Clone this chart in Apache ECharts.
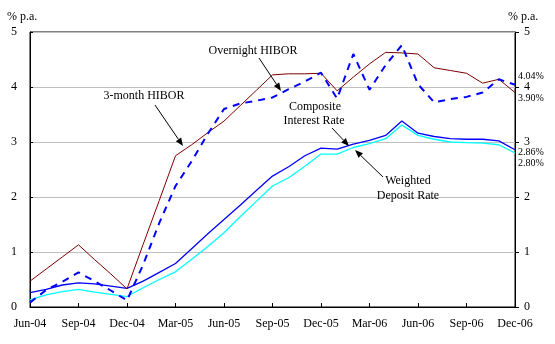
<!DOCTYPE html>
<html>
<head>
<meta charset="utf-8">
<script src="https://cdn.jsdelivr.net/npm/echarts@6/dist/echarts.min.js"></script>
<style>
  html, body { margin: 0; padding: 0; background: #fff; }
  #chart { width: 555px; height: 344px; }
</style>
</head>
<body>
<div id="chart"></div>
<script>
// Monthly observations, Jun-04 to Dec-06 (% p.a.)
const months = ['Jun-04','Jul-04','Aug-04','Sep-04','Oct-04','Nov-04','Dec-04',
  'Jan-05','Feb-05','Mar-05','Apr-05','May-05','Jun-05','Jul-05','Aug-05','Sep-05',
  'Oct-05','Nov-05','Dec-05','Jan-06','Feb-06','Mar-06','Apr-06','May-06','Jun-06',
  'Jul-06','Aug-06','Sep-06','Oct-06','Nov-06','Dec-06'];

const hibor3m = [0.47,0.69,0.91,1.13,0.86,0.60,0.33,1.14,1.94,2.75,2.95,3.17,3.38,3.66,3.94,4.22,
  4.24,4.24,4.25,3.93,4.18,4.42,4.63,4.62,4.60,4.35,4.30,4.25,4.07,4.14,3.90];

const hiborOvernight = [0.08,0.31,0.46,0.63,0.47,0.30,0.12,0.77,1.53,2.20,2.65,3.15,3.60,3.70,3.75,3.81,
  3.96,4.10,4.26,3.79,4.60,3.95,4.40,4.76,4.05,3.72,3.78,3.82,3.90,4.14,4.04];

const compositeRate = [0.26,0.32,0.40,0.44,0.42,0.38,0.34,0.47,0.63,0.79,1.06,1.33,1.59,1.85,2.12,2.38,
  2.55,2.75,2.89,2.87,2.96,3.03,3.12,3.38,3.16,3.10,3.06,3.05,3.05,3.02,2.86];

const depositRate = [0.13,0.22,0.28,0.32,0.27,0.23,0.19,0.35,0.50,0.64,0.87,1.10,1.35,1.64,1.92,2.20,
  2.35,2.56,2.78,2.78,2.90,2.97,3.06,3.31,3.12,3.05,3.00,2.99,2.98,2.95,2.80];

const FONT = '"Liberation Serif", "Times New Roman", serif';

function arrow(x1, y1, x2, y2) {
  const a = Math.atan2(y2 - y1, x2 - x1);
  const L = 8, W = 3.2;
  const bx = x2 - L * Math.cos(a), by = y2 - L * Math.sin(a);
  return [
    { type: 'line', shape: { x1: x1, y1: y1, x2: bx, y2: by }, style: { stroke: '#000', lineWidth: 1 }, z: 20 },
    { type: 'polygon', shape: { points: [[x2, y2],
        [bx - W * Math.sin(a), by + W * Math.cos(a)],
        [bx + W * Math.sin(a), by - W * Math.cos(a)]] }, style: { fill: '#000' }, z: 20 }
  ];
}

function label(text, x, y, align) {
  return { type: 'text', x: x, y: y, z: 20,
    style: { text: text, fontFamily: FONT, fontSize: 12, fill: '#000',
      align: align || 'center', verticalAlign: 'middle' } };
}

function endLabel(dy) {
  return { show: true, distance: 3, offset: [0, dy], fontFamily: FONT, fontSize: 10, color: '#000',
    formatter: p => p.value.toFixed(2) + '%' };
}

const chart = echarts.init(document.getElementById('chart'), null, { renderer: 'canvas' });

chart.setOption({
  animation: false,
  backgroundColor: '#fff',
  grid: { left: 30, right: 40, top: 32, bottom: 37, show: true, borderColor: '#000', borderWidth: 1, backgroundColor: 'transparent' },
  xAxis: {
    type: 'category', data: months, boundaryGap: false,
    axisLine: { lineStyle: { color: '#000', width: 1 } },
    axisTick: { inside: true, length: 4, interval: 2, lineStyle: { color: '#000' } },
    axisLabel: { interval: 2, margin: 11, fontFamily: FONT, fontSize: 12, color: '#000' },
    splitLine: { show: false }
  },
  yAxis: [
    { type: 'value', min: 0, max: 5, interval: 1, position: 'left',
      axisLine: { show: true, lineStyle: { color: '#000' } },
      axisTick: { show: true, inside: true, length: 3, lineStyle: { color: '#000' } },
      axisLabel: { margin: 13, fontFamily: FONT, fontSize: 12, color: '#000' },
      splitLine: { show: true, lineStyle: { color: '#c0c0c0', width: 1 } } },
    { type: 'value', min: 0, max: 5, interval: 1, position: 'right',
      axisLine: { show: true, lineStyle: { color: '#000' } },
      axisTick: { show: true, inside: false, length: 4, lineStyle: { color: '#000' } },
      axisLabel: { margin: 9, fontFamily: FONT, fontSize: 12, color: '#000' },
      splitLine: { show: false } }
  ],
  series: [
    { name: 'Weighted Deposit Rate', type: 'line', data: depositRate, symbol: 'none',
      lineStyle: { color: '#00ffff', width: 1.3 }, endLabel: endLabel(10) },
    { name: 'Composite Interest Rate', type: 'line', data: compositeRate, symbol: 'none',
      lineStyle: { color: '#0000ff', width: 1.3 }, endLabel: endLabel(3) },
    { name: '3-month HIBOR', type: 'line', data: hibor3m, symbol: 'none',
      lineStyle: { color: '#800000', width: 1 }, endLabel: endLabel(6) },
    { name: 'Overnight HIBOR', type: 'line', data: hiborOvernight, symbol: 'none',
      lineStyle: { color: '#0000ff', width: 2, type: [7, 6] }, endLabel: endLabel(-8) }
  ],
  graphic: [
    label('% p.a.', 7, 17, 'left'),
    label('% p.a.', 508, 17, 'left'),
    label('Overnight HIBOR', 253, 51),
    label('3-month HIBOR', 144, 96),
    label('Composite', 315, 107),
    label('Interest Rate', 314, 121),
    label('Weighted', 408, 181),
    label('Deposit Rate', 408, 196),
    ...arrow(259, 58, 281, 91),
    ...arrow(155, 105, 183, 146),
    ...arrow(332, 128, 349, 146),
    ...arrow(383, 177, 355, 150)
  ]
});
</script>
</body>
</html>
